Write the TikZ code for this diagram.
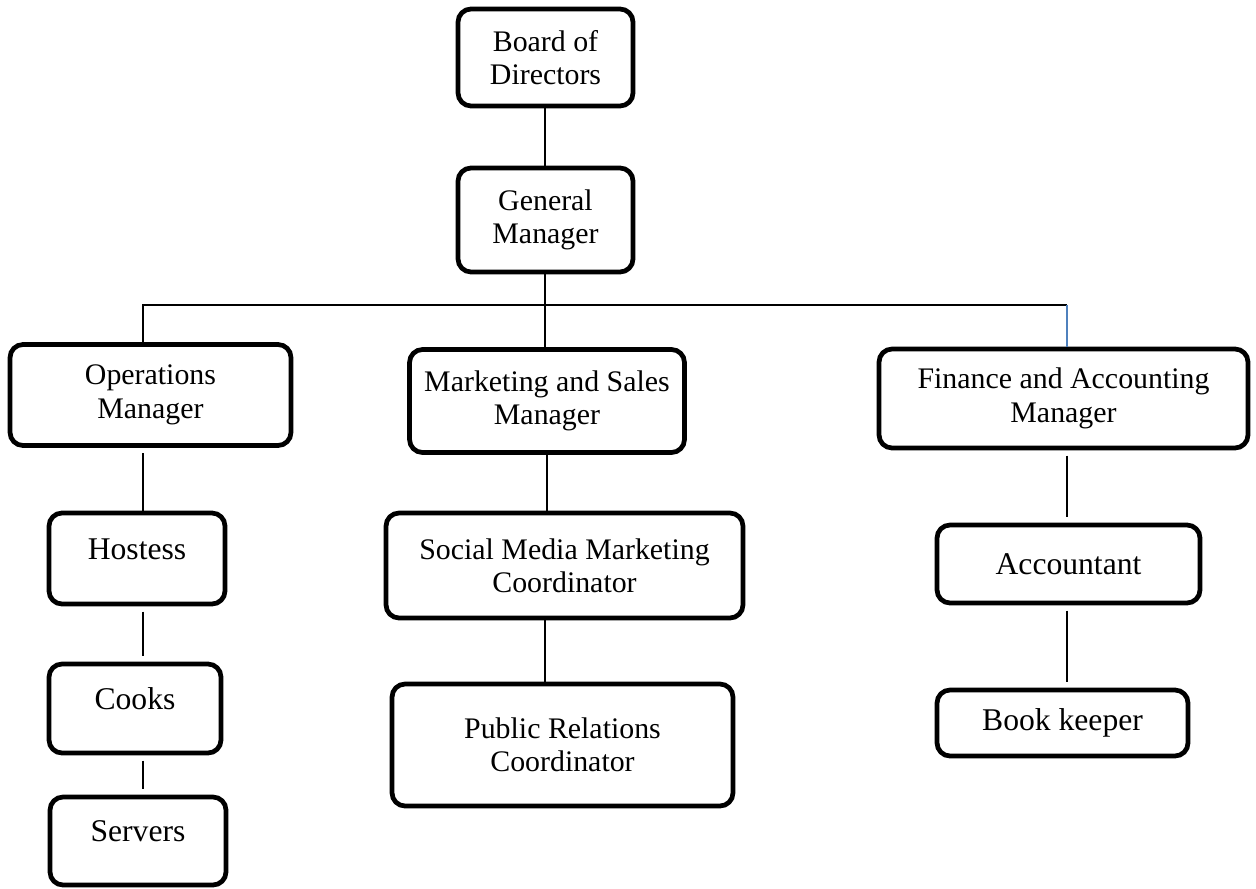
\documentclass[tikz,border=0pt]{standalone}
\usepackage{fontspec}
\setmainfont{Liberation Serif}
\definecolor{wordblue}{HTML}{4F81BD}
\tikzset{
	box/.style={draw=black, line width=2.7pt, rounded corners=0.26cm, align=center, inner sep=0pt,
		font=\fontsize{17}{19}\selectfont},
	onebox/.style={box, font=\fontsize{18}{20}\selectfont},
	highbox/.style={onebox, text depth=11pt},
	link/.style={line width=0.8pt},
	gaplink/.style={link, shorten <=3pt, shorten >=3pt}
}

\begin{document}
\begin{tikzpicture}[x=0.02cm, y=-0.02cm]
				\useasboundingbox (0,0) rectangle (1256,888);
				
				\node[box, minimum width=3.5cm, minimum height=1.94cm] (board) at (545.5,57.5) {Board of\\Directors};
				\node[box, minimum width=3.5cm, minimum height=2.08cm] (gm) at (545.5,220) {General\\Manager};
				
				\node[box, minimum width=5.62cm, minimum height=2.02cm] (ops) at (150.5,395) {Operations\\Manager};
				\node[box, minimum width=5.5cm, minimum height=2.06cm] (mkt) at (547,401) {Marketing and Sales\\Manager};
				\node[box, minimum width=7.38cm, minimum height=1.98cm] (fin) at (1063.5,398.5) {Finance and Accounting\\Manager};
				
				\node[highbox, minimum width=3.52cm, minimum height=1.82cm] (host) at (137,558.5) {Hostess};
				\node[highbox, minimum width=3.44cm, minimum height=1.78cm] (cooks) at (135,708.5) {Cooks};
				\node[highbox, minimum width=3.52cm, minimum height=1.76cm] (servers) at (138,841) {Servers};
				
				\node[box, minimum width=7.14cm, minimum height=2.1cm] (smm) at (564.5,565.5) {Social Media Marketing\\Coordinator};
				\node[box, minimum width=6.82cm, minimum height=2.44cm] (pr) at (562.5,745) {Public Relations\\Coordinator};
				
				\node[onebox, minimum width=5.26cm, minimum height=1.56cm] (acc) at (1068.5,564) {Accountant};
				\node[onebox, minimum width=5.02cm, minimum height=1.32cm] (book) at (1062.5,723) {Book keeper};
				
				\coordinate (opsx) at (143,0);
				\coordinate (mktx) at (545,0);
				\coordinate (finx) at (1067,0);
				\coordinate (bus) at (545,305);
				
				\draw[link] (board.south -| mktx) -- (gm.north -| mktx);
				\draw[link] (gm.south -| mktx) -- (mkt.north -| mktx);
				\draw[link] (ops.north -| opsx) |- (bus -| finx);
				\draw[link, wordblue] (bus -| finx) -- (fin.north -| finx);
				
				\draw[link, shorten <=3pt] (ops.south -| opsx) -- (host.north -| opsx);
				\draw[gaplink] (host.south -| opsx) -- (cooks.north -| opsx);
				\draw[gaplink] (cooks.south -| opsx) -- (servers.north -| opsx);
				
				\draw[link] (mkt.south) -- (smm.north -| mkt.south);
				\draw[link] (smm.south -| mktx) -- (pr.north -| mktx);
				
				\draw[gaplink] (fin.south -| finx) -- (acc.north -| finx);
				\draw[gaplink] (acc.south -| finx) -- (book.north -| finx);
			\end{tikzpicture}
\end{document}
